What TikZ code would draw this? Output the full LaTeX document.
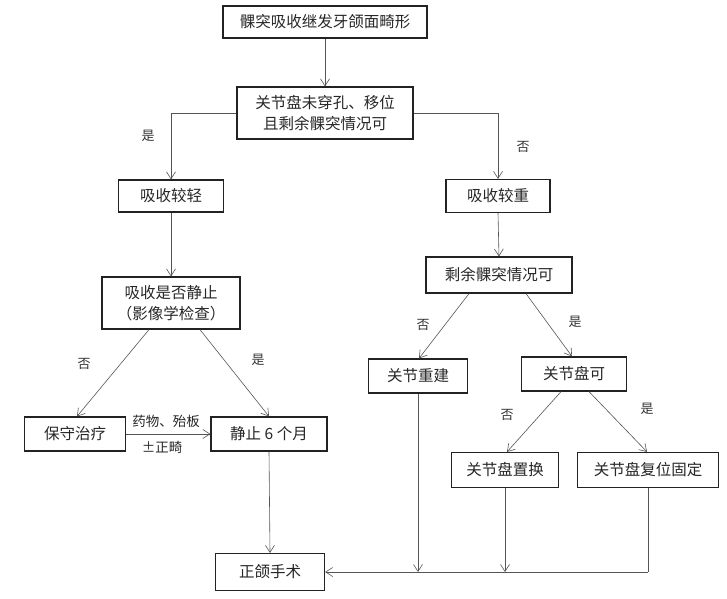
\documentclass[tikz,border=0pt]{standalone}
\usepackage{fontspec}
\setmainfont{Noto Sans CJK SC}
\usetikzlibrary{arrows.meta,calc}
\definecolor{boxline}{HTML}{222222}
\definecolor{conline}{HTML}{555555}
\tikzset{
  box/.style={draw=boxline, line width=1.2pt, inner sep=0pt, align=center,
    font=\fontsize{15.5}{21}\selectfont, text=black!85},
  con/.style={draw=conline, line width=0.6pt, -{Straight Barb[length=7pt,width=9pt,line width=0.6pt]}},
  plain/.style={draw=conline, line width=0.6pt},
  lab/.style={font=\fontsize{13}{15}\selectfont, text=black!80, inner sep=0pt},
  elab/.style={font=\fontsize{13.5}{16}\selectfont, text=black!85, inner sep=0pt}
}
\begin{document}
\begin{tikzpicture}[x=1pt,y=-1pt]
\useasboundingbox (0,0) rectangle (727,598);
\node[box, minimum width=204pt, minimum height=32pt] (b1) at (325,22) {髁突吸收继发牙颌面畸形};
\node[box, minimum width=176pt, minimum height=52pt] (b2) at (325,113) {关节盘未穿孔、移位\\且剩余髁突情况可};
\node[box, minimum width=105pt, minimum height=32pt] (b3) at (171,196) {吸收较轻};
\node[box, minimum width=104pt, minimum height=33pt] (b4) at (498,196) {吸收较重};
\node[box, minimum width=138pt, minimum height=52pt] (b5) at (171,303) {吸收是否静止\\（影像学检查）};
\node[box, minimum width=146pt, minimum height=36pt] (b6) at (499,275) {剩余髁突情况可};
\node[box, minimum width=101pt, minimum height=34pt] (b7) at (75,434) {保守治疗};
\node[box, minimum width=116pt, minimum height=34pt] (b8) at (269,434) {静止 6 个月};
\node[box, minimum width=99pt, minimum height=34pt] (b9) at (418,376) {关节重建};
\node[box, minimum width=105pt, minimum height=34pt] (b10) at (574,374) {关节盘可};
\node[box, minimum width=107pt, minimum height=35pt] (b11) at (505,470) {关节盘置换};
\node[box, minimum width=141pt, minimum height=35pt] (b12) at (648,470) {关节盘复位固定};
\node[box, minimum width=109pt, minimum height=37pt] (b13) at (270,572) {正颌手术};

\draw[con] (b1.south) -- (b2.north);
\draw[con] (b2.west) -| (b3.north);
\draw[con] (b2.east) -| (b4.north);
\node[lab] (l1) at (148,136) {是};
\node[lab] (l2) at (523,147) {否};
\draw[con] (b3.south) -- (b5.north);
\draw[con] (b4.south) -- (b6.north);

\draw[con] ([xshift=-22pt]b5.south) -- ([xshift=2pt]b7.north);
\draw[con] ([xshift=29pt]b5.south) -- (b8.north);
\node[lab] (l3) at (84,364) {否};
\node[lab] (l4) at (258,360) {是};
\draw[con] (b7.east) -- (b8.west);
\node[elab] (l5) at (166,421) {药物、殆板};
\node[elab] (l6) at (162,447) {±正畸};

\draw[con] ([xshift=-30pt]b6.south) -- ([xshift=1pt]b9.north);
\draw[con] ([xshift=27pt]b6.south) -- ([xshift=-2pt]b10.north);
\node[lab] (l7) at (423,325) {否};
\node[lab] (l8) at (575,322) {是};

\draw[con] ([xshift=-13pt]b10.south) -- ([xshift=2pt]b11.north);
\draw[con] ([xshift=15pt]b10.south) -- ([xshift=-1pt]b12.north);
\node[lab] (l9) at (507,415) {否};
\node[lab] (l10) at (647,409) {是};

\draw[con] (b8.south) -- (b13.north);
\coordinate (j1) at (b9.south |- b13.east);
\coordinate (j2) at (b11.south |- b13.east);
\coordinate (j3) at (b12.south |- b13.east);
\draw[con] (b9.south) -- (j1);
\draw[con] (b11.south) -- (j2);
\draw[plain] (b12.south) -- (j3);
\draw[con] (j3) -- (b13.east);
\end{tikzpicture}
\end{document}
